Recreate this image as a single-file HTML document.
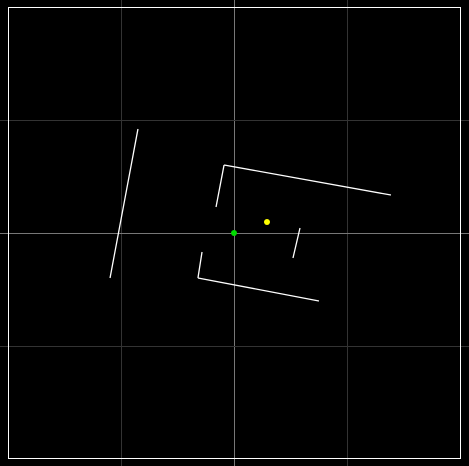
<!DOCTYPE html>
<html><head><style>
html,body{margin:0;padding:0;background:#000;width:469px;height:466px;overflow:hidden}
svg{display:block}
</style></head><body>
<svg id="chart" width="469" height="466" xmlns="http://www.w3.org/2000/svg">
<rect x="0" y="0" width="469" height="466" fill="#000"/>
<g id="grid"></g>
<g id="marks"></g>
<rect x="8.5" y="7.5" width="452" height="451" fill="none" stroke="#fff" stroke-width="1"/>
</svg>
<script>
// world units: 1 unit = one grid cell
const gridX = [-1, 0, 1];
const gridY = [-1, 0, 1];
const segX1 = [-0.850, -0.088, -0.088, -0.283, -0.319, 0.584];
const segY1 = [ 0.920,  0.602,  0.602, -0.168, -0.398, 0.044];
const segX2 = [-1.097,  1.389, -0.159, -0.319,  0.752, 0.522];
const segY2 = [-0.398,  0.336,  0.230, -0.398, -0.602, -0.221];
const pointX = [0, 0.292];
const pointY = [0, 0.097];
const pointColors = ['#00dd00', '#ffff00'];

const cx = 234, cy = 233, unit = 113;
const sx = v => cx + v * unit;
const sy = v => cy - v * unit;
const NS = 'http://www.w3.org/2000/svg';
const grid = document.getElementById('grid');
const marks = document.getElementById('marks');

gridX.forEach((g, i) => {
  const l = document.createElementNS(NS, 'line');
  l.setAttribute('x1', sx(g) + 0.5); l.setAttribute('x2', sx(g) + 0.5);
  l.setAttribute('y1', 0); l.setAttribute('y2', 466);
  l.setAttribute('stroke', g === 0 ? '#777' : '#333'); l.setAttribute('stroke-width', 1);
  
  
  grid.appendChild(l);
});
gridY.forEach((g, i) => {
  const l = document.createElementNS(NS, 'line');
  l.setAttribute('y1', sy(g) + 0.5); l.setAttribute('y2', sy(g) + 0.5);
  l.setAttribute('x1', 0); l.setAttribute('x2', 469);
  l.setAttribute('stroke', g === 0 ? '#777' : '#333'); l.setAttribute('stroke-width', 1);
  
  
  grid.appendChild(l);
});
segX1.forEach((_, i) => {
  const l = document.createElementNS(NS, 'line');
  l.setAttribute('x1', sx(segX1[i])); l.setAttribute('y1', sy(segY1[i]));
  l.setAttribute('x2', sx(segX2[i])); l.setAttribute('y2', sy(segY2[i]));
  l.setAttribute('stroke', '#fff'); l.setAttribute('stroke-width', 1.3);
  
  
  marks.appendChild(l);
});
pointX.forEach((_, i) => {
  const c = document.createElementNS(NS, 'circle');
  c.setAttribute('cx', sx(pointX[i])); c.setAttribute('cy', sy(pointY[i]));
  c.setAttribute('r', 3); c.setAttribute('fill', pointColors[i]);
  
  
  marks.appendChild(c);
});
</script>
</body></html>
